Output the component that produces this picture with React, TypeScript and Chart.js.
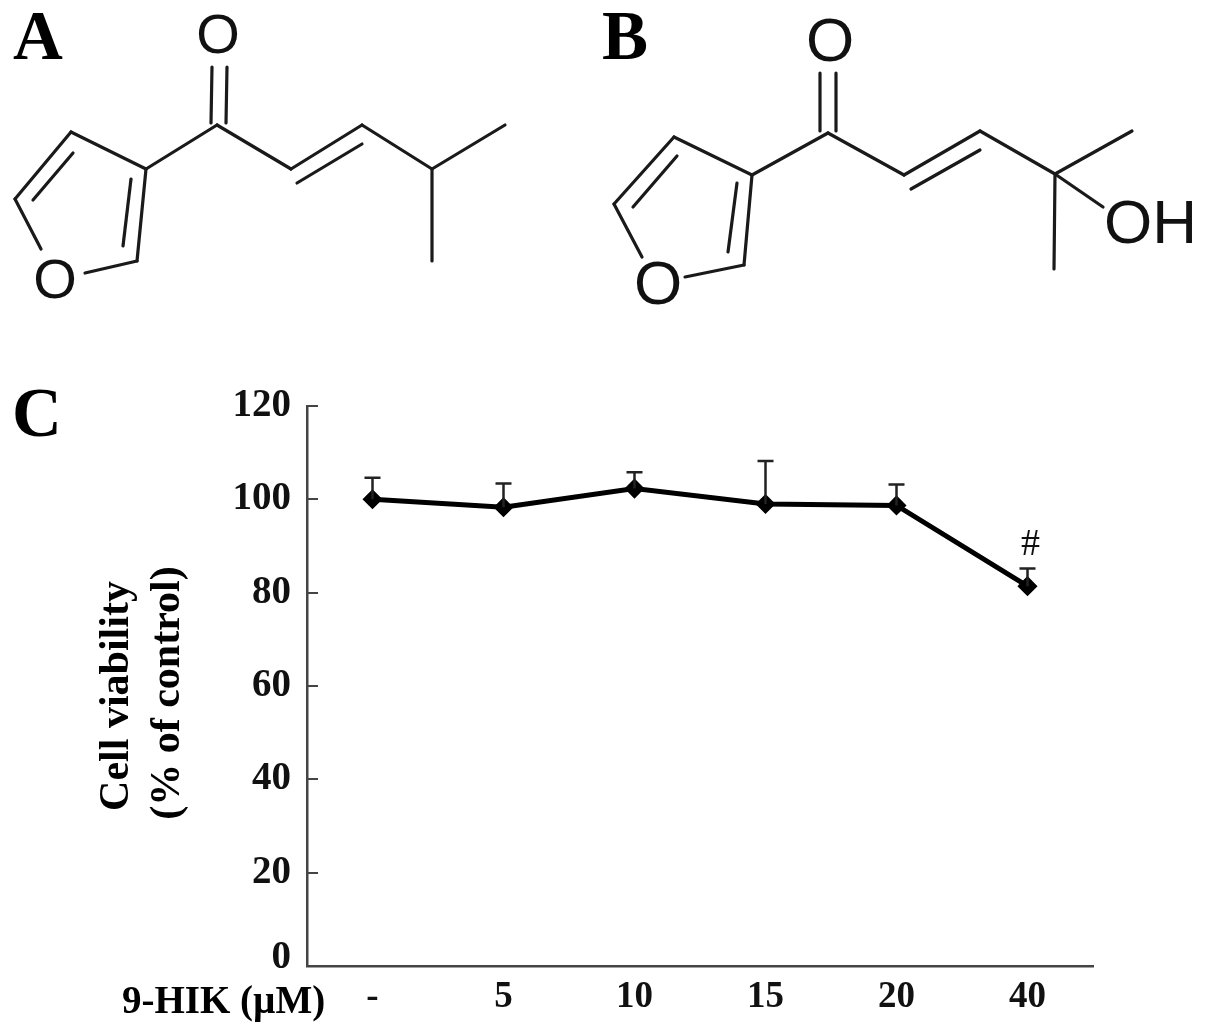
import React, { useEffect, useRef } from "react";
import { Chart, registerables } from "chart.js";

Chart.register(...registerables);

const doses = ["-", "5", "10", "15", "20", "40"];
const viability = [100, 98.3, 102.3, 99, 98.7, 81.4];
const upperError = [104.6, 103.4, 105.8, 108.2, 103.2, 85.2];
const significance = ["", "", "", "", "", "#"];
const yTicks = [0, 20, 40, 60, 80, 100, 120];

type Seg = [number, number, number, number];

// Skeletal structure drawings of panels A and B (illustration, not chart data)
const bondsA: Seg[] = [
  [146, 169, 71, 132], [71, 132, 15, 199], [15, 199, 41, 249], [85, 273, 137, 261], [137, 261, 146, 169],
  [73, 153, 33, 200], [131, 179, 123, 246],
  [146, 169, 217, 125], [212, 67, 211, 123], [227, 67, 226, 123],
  [217, 125, 291, 169], [291, 169, 362, 125], [297, 183, 362, 144],
  [362, 125, 432, 169], [432, 169, 505, 125], [432, 169, 432, 261],
];
const bondsB: Seg[] = [
  [752, 175, 674, 137], [674, 137, 614, 204], [614, 204, 642, 257], [685, 277, 744, 265], [744, 265, 752, 175],
  [677, 156, 633, 207], [737, 183, 728, 252],
  [752, 175, 828, 133], [820, 73, 820, 131], [836, 73, 836, 131],
  [828, 133, 904, 175], [904, 175, 980, 131], [911, 189, 980, 150],
  [980, 131, 1055, 174], [1055, 174, 1132, 131], [1055, 174, 1054, 269], [1055, 174, 1103, 207],
];

const SERIF = '"Liberation Serif", serif';
const SANS = '"Liberation Sans", sans-serif';

const decorPlugin = {
  id: "decor",
  afterDatasetsDraw(chart: any) {
    const { ctx, scales } = chart;
    const x = scales.x;
    const y = scales.y;
    ctx.save();
    // error bars (upper only)
    ctx.strokeStyle = "#222";
    ctx.lineWidth = 2.5;
    upperError.forEach((u, i) => {
      const px = x.getPixelForValue(i);
      const top = y.getPixelForValue(u);
      const base = y.getPixelForValue(viability[i]);
      ctx.beginPath();
      ctx.moveTo(px, base);
      ctx.lineTo(px, top);
      ctx.moveTo(px - 8, top);
      ctx.lineTo(px + 8, top);
      ctx.stroke();
    });
    // significance marks
    ctx.fillStyle = "#111";
    ctx.font = `38px ${SERIF}`;
    ctx.textAlign = "center";
    ctx.textBaseline = "alphabetic";
    significance.forEach((s, i) => {
      if (s) ctx.fillText(s, x.getPixelForValue(i) + 3, y.getPixelForValue(upperError[i]) - 13);
    });
    // structures
    ctx.strokeStyle = "#1a1a1a";
    ctx.lineWidth = 3.2;
    ctx.lineCap = "round";
    [...bondsA, ...bondsB].forEach(([a, b, c, d]) => {
      ctx.beginPath();
      ctx.moveTo(a, b);
      ctx.lineTo(c, d);
      ctx.stroke();
    });
    ctx.textBaseline = "middle";
    ctx.font = `56px ${SANS}`;
    ctx.fillText("O", 218, 38);
    ctx.fillText("O", 55, 283);
    ctx.font = `62px ${SANS}`;
    ctx.fillText("O", 830, 44);
    ctx.fillText("O", 658, 287);
    ctx.textAlign = "left";
    ctx.fillText("OH", 1104, 226);
    // panel letters
    ctx.textBaseline = "alphabetic";
    ctx.fillStyle = "#000";
    ctx.font = `bold 69px ${SERIF}`;
    ctx.fillText("A", 13, 59);
    ctx.fillText("B", 602, 59);
    ctx.fillText("C", 12, 436);
    // dose caption
    ctx.font = `bold 39px ${SERIF}`;
    ctx.textBaseline = "middle";
    ctx.fillText("9-HIK (\u00B5M)", 122, 1003);
    // y axis caption
    ctx.textAlign = "center";
    ctx.font = `bold 42px ${SERIF}`;
    ctx.save();
    ctx.translate(117, 696);
    ctx.rotate(-Math.PI / 2);
    ctx.fillText("Cell viability", 0, 0);
    ctx.restore();
    ctx.save();
    ctx.translate(168, 693);
    ctx.rotate(-Math.PI / 2);
    ctx.fillText("(% of control)", 0, 0);
    ctx.restore();
    ctx.restore();
  },
};

export default function App() {
  const ref = useRef<HTMLCanvasElement>(null);
  useEffect(() => {
    const chart = new Chart(ref.current as HTMLCanvasElement, {
      type: "line",
      data: {
        labels: doses,
        datasets: [
          {
            label: "Cell viability",
            data: viability,
            borderColor: "#000",
            borderWidth: 5,
            backgroundColor: "#000",
            pointStyle: "rectRot",
            pointRadius: 6.5,
            pointBackgroundColor: "#000",
            pointBorderColor: "#000",
            tension: 0,
          },
        ],
      },
      options: {
        responsive: false,
        animation: false,
        layout: { autoPadding: false, padding: { top: 406, right: 112, left: 0, bottom: 0 } },
        plugins: { legend: { display: false }, tooltip: { enabled: false } },
        scales: {
          x: {
            offset: true,
            afterFit: (s: any) => { s.height = 67; },
            grid: { display: false, drawTicks: false },
            border: { display: true, color: "#444", width: 2.5 },
            ticks: {
              color: "#111",
              font: { family: SERIF, size: 37, weight: "bold" },
              padding: 9,
              maxRotation: 0,
              autoSkip: false,
            },
          },
          y: {
            min: 0,
            max: 120,
            afterFit: (s: any) => { s.width = 307; },
            afterBuildTicks: (s: any) => { s.ticks = yTicks.map((value) => ({ value })); },
            grid: { drawOnChartArea: false, drawTicks: true, tickLength: -11, color: "#444", lineWidth: 2 },
            border: { display: true, color: "#444", width: 2.5 },
            ticks: {
              color: "#111",
              padding: 27,
              font: (c: any) => ({
                family: SERIF,
                size: 39,
                weight: "bold",
                lineHeight: c.tick && c.tick.value === 0 ? "16px" : 1.2,
              }),
              callback: (v: any) => (v === 0 ? ["0", ""] : String(v)),
            },
          },
        },
      },
      plugins: [decorPlugin],
    } as any);
    return () => chart.destroy();
  }, []);
  return (
    <div style={{ position: "absolute", left: 0, top: 0, width: 1205, height: 1033, background: "#fff" }}>
      <canvas ref={ref} width={1205} height={1033} style={{ display: "block" }} />
    </div>
  );
}
